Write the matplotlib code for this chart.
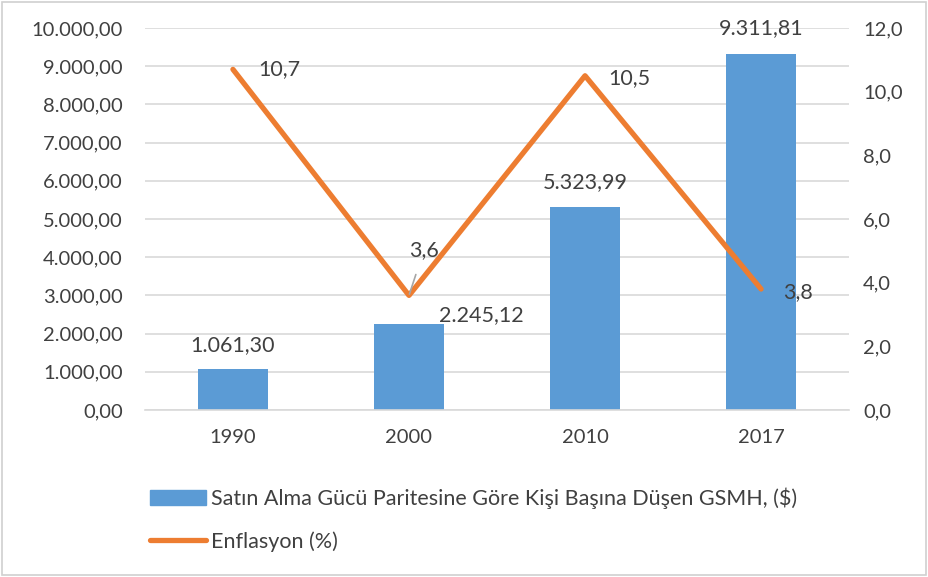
import matplotlib
matplotlib.use("Agg")
import matplotlib.pyplot as plt
from matplotlib.patches import Rectangle
from matplotlib.lines import Line2D

plt.rcParams['font.family'] = ['Lato', 'DejaVu Sans']

years = ["1990", "2000", "2010", "2017"]
gsmh = [1061.30, 2245.12, 5323.99, 9311.81]
enflasyon = [10.7, 3.6, 10.5, 3.8]
bar_label_name = "Satın Alma Gücü Paritesine Göre Kişi Başına Düşen GSMH, ($)"
line_label_name = "Enflasyon (%)"

BLUE = "#5B9BD5"
ORANGE = "#ED7D31"
TXT = "#404040"
GRID = "#D9D9D9"

def tr_fmt(v, dec):
    s = f"{v:,.{dec}f}"
    return s.replace(",", "X").replace(".", ",").replace("X", ".")

fig = plt.figure(figsize=(9.29, 5.77), dpi=100)
fig.patches.append(Rectangle((0.002, 0.003), 0.995, 0.994, transform=fig.transFigure,
                             fill=False, edgecolor="#D0D0D0", linewidth=1.2))
ax = fig.add_axes([0.156, 0.2894, 0.758, 0.6621])
x = list(range(len(years)))
bars = ax.bar(x, gsmh, width=0.4, color=BLUE, zorder=2)
ax.set_xlim(-0.5, len(years) - 0.5)
ax.set_ylim(0, 10000)
ax.set_yticks(range(0, 10001, 1000))
ax.set_yticklabels([tr_fmt(v, 2) for v in range(0, 10001, 1000)])
ax.set_xticks(x)
ax.set_xticklabels(years)
ax.grid(axis='y', color=GRID, linewidth=1.2, zorder=0)
ax.set_axisbelow(True)
for s in ['top', 'right', 'left']:
    ax.spines[s].set_visible(False)
ax.spines['bottom'].set_color(GRID)
ax.spines['bottom'].set_linewidth(1.2)
ax.tick_params(axis='y', length=0, labelsize=14.5, labelcolor=TXT, pad=16)
ax.tick_params(axis='x', length=0, labelsize=14.5, labelcolor=TXT, pad=14)

ax2 = ax.twinx()
ax2.set_ylim(0, 12)
ax2.set_yticks(range(0, 13, 2))
ax2.set_yticklabels([tr_fmt(v, 1) for v in range(0, 13, 2)])
for s in ax2.spines.values():
    s.set_visible(False)
ax2.tick_params(axis='y', length=0, labelsize=14.5, labelcolor=TXT, pad=10)
ax2.plot(x, enflasyon, color=ORANGE, linewidth=3.8, solid_capstyle='round', zorder=3)

# bar labels
bar_offsets = [(0, 17.5, 'center'), (21.5, 6.5, 'left'), (0, 17.5, 'center'), (0, 18.5, 'center')]
for xi, v, (dx, dy, ha) in zip(x, gsmh, bar_offsets):
    ax.annotate(tr_fmt(v, 2), (xi, v), xytext=(dx, dy), textcoords='offset points',
                ha=ha, va='center', fontsize=15.5, color=TXT)

# line labels
line_offsets = [(18, 0), (0, 0), (16.5, -1.5), (16, -2)]
for i, (xi, v) in enumerate(zip(x, enflasyon)):
    if i == 1:
        ax2.annotate(tr_fmt(v, 1), (xi, v), xytext=(xi + 0.085, v + 1.43),
                     textcoords='data', ha='center', va='center', fontsize=15.5, color=TXT,
                     arrowprops=dict(arrowstyle='-', color='#A6A6A6', lw=1.2,
                                     shrinkA=9, shrinkB=1))
    else:
        dx, dy = line_offsets[i]
        ax2.annotate(tr_fmt(v, 1), (xi, v), xytext=(dx, dy), textcoords='offset points',
                     ha='left', va='center', fontsize=15.5, color=TXT)

handles = [Rectangle((0, 0), 1, 1, color=BLUE),
           Line2D([0], [0], color=ORANGE, linewidth=3.8, solid_capstyle='round')]
fig.legend(handles, [bar_label_name, line_label_name], loc='upper left',
           bbox_to_anchor=(0.141, 0.189), frameon=False, fontsize=15.5,
           labelcolor=TXT, handlelength=2.6, handletextpad=0.2, labelspacing=1.05)

fig.savefig("out.png", dpi=100)
